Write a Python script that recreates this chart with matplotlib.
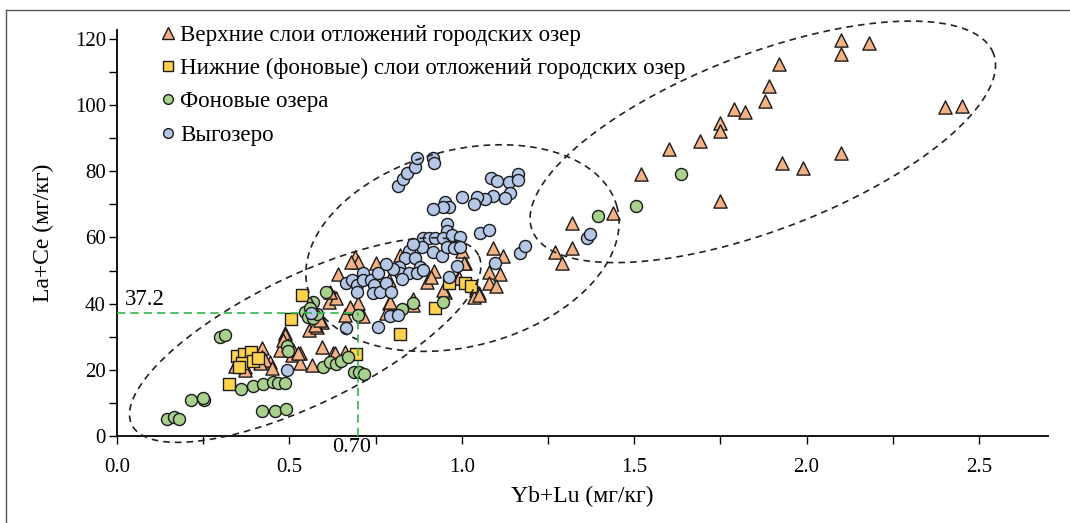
import matplotlib
matplotlib.use("Agg")
import matplotlib.pyplot as plt
import numpy as np
from matplotlib.ticker import MultipleLocator, FormatStrFormatter
from matplotlib.lines import Line2D

plt.rcParams['font.family'] = ['Liberation Serif', 'DejaVu Serif']

# Верхние слои отложений городских озер (Yb+Lu, La+Ce)
upper_x = [2.10, 2.18, 2.10, 1.92, 1.89, 1.88, 1.79, 1.82, 1.75, 1.75, 1.69, 1.60,
           1.52, 1.44, 1.32, 1.32, 1.27, 1.29, 2.40, 2.45, 1.93, 1.99, 2.10, 1.75,
           1.09, 1.12, 1.08, 1.11, 1.08, 1.10, 1.04, 1.05, 1.01, 1.00, 0.99, 0.95,
           0.90, 0.92, 0.91, 1.04, 1.035, 0.86, 1.006, 0.991, 0.947, 1.049,
           0.82, 0.86, 0.79, 0.78, 0.69, 0.70, 0.75, 0.79, 0.64, 0.63, 0.70, 0.675,
           0.66, 0.715, 0.594, 0.556, 0.58, 0.488, 0.594, 0.628, 0.68, 0.614, 0.636,
           0.677, 0.575, 0.473, 0.507, 0.53, 0.531, 0.565, 0.633, 0.662, 0.444,
           0.420, 0.488, 0.497, 0.512, 0.526, 0.346, 0.372, 0.420, 0.430, 0.449,
           0.415, 0.343, 0.372, 0.483, 0.618, 0.585, 0.59, 0.793, 0.75]
upper_y = [119.7, 118.9, 115.4, 112.4, 105.8, 101.1, 98.9, 97.9, 94.5, 92.2, 89.3, 86.7,
           79.2, 67.5, 64.5, 56.7, 55.7, 52.2, 99.4, 99.8, 82.4, 81.1, 85.5, 71.1,
           56.7, 54.5, 49.7, 48.9, 46.3, 45.4, 42.8, 43.1, 52.2, 56.0, 47.7, 43.6,
           46.5, 50.0, 48.2, 44.1, 42.1, 39.6, 52.4, 47.7, 44.1, 42.6,
           54.7, 41.4, 40.1, 37.3, 54.2, 52.7, 52.2, 47.2, 49.0, 42.1, 40.3, 38.6,
           36.6, 36.3, 34.6, 32.0, 33.0, 31.0, 27.0, 25.0, 52.7, 40.6, 41.6,
           38.9, 33.6, 26.0, 24.5, 25.0, 22.0, 21.5, 25.0, 25.5, 22.5,
           26.5, 30.5, 27.5, 26.0, 25.0, 21.8, 20.9, 24.0, 23.0, 20.5,
           22.0, 21.2, 20.0, 29.0, 43.6, 36.1, 35.0, 40.6, 48.5]

# Нижние (фоновые) слои отложений городских озер
lower_x = [0.326, 0.348, 0.369, 0.388, 0.364, 0.394, 0.41, 0.504, 0.538, 0.694,
           0.820, 0.923, 0.962, 1.010, 1.027, 0.355]
lower_y = [15.7, 24.3, 24.7, 25.5, 22.0, 22.7, 23.5, 35.4, 42.6, 24.8,
           30.8, 38.6, 46.2, 46.2, 45.3, 21.0]

# Фоновые озера
bg_x = [0.144, 0.165, 0.180, 0.214, 0.253, 0.249, 0.299, 0.313, 0.359, 0.396,
        0.423, 0.454, 0.467, 0.488, 0.422, 0.459, 0.490, 0.494, 0.497, 0.597,
        0.617, 0.634, 0.651, 0.669, 0.688, 0.703, 0.717, 0.605, 0.570, 0.546,
        0.555, 0.570, 0.560, 0.580, 0.70, 0.827, 0.860, 0.945, 1.635, 1.504, 1.395]
bg_y = [5.1, 5.7, 5.1, 10.9, 10.9, 11.4, 30.0, 30.4, 14.2, 15.2,
        15.7, 16.4, 16.1, 16.1, 7.7, 7.7, 8.2, 27.2, 25.8, 21.0,
        22.5, 21.8, 22.6, 24.0, 19.3, 19.4, 18.7, 43.6, 40.6, 37.6,
        36.1, 35.6, 38.6, 37.0, 36.6, 38.3, 40.3, 40.4, 79.2, 69.6, 66.5]

# Выгозеро
vyg_x = [0.814, 0.830, 0.841, 0.865, 0.870, 0.916, 0.920,
         1.086, 1.103, 1.136, 1.162, 1.164, 1.139, 1.124, 1.091, 1.066, 1.044, 1.035,
         1.001, 0.952, 0.962, 0.947, 0.918, 1.054, 1.078, 1.170, 1.183, 1.364, 1.371,
         1.096, 0.986, 0.962,
         0.957, 0.957, 0.888, 0.904, 0.923, 0.947, 0.972, 0.996, 0.885, 0.918, 0.943,
         0.957, 0.977, 0.996, 0.846, 0.836, 0.865, 0.880, 0.817, 0.822, 0.846, 0.870,
         0.889, 0.827,
         0.665, 0.681, 0.696, 0.696, 0.713, 0.715, 0.737, 0.756, 0.746, 0.744, 0.764,
         0.781, 0.795, 0.791, 0.814, 0.756, 0.665, 0.563, 0.493, 0.80, 0.78, 0.86]
vyg_y = [75.7, 77.6, 79.6, 81.4, 84.1, 84.1, 82.4,
         77.9, 77.1, 76.7, 79.2, 77.4, 73.5, 71.9, 72.6, 71.6, 72.2, 70.0,
         72.3, 70.8, 69.1, 69.1, 68.5, 61.3, 62.3, 55.2, 57.4, 59.8, 61.0,
         52.2, 51.4, 48.0,
         64.0, 62.0, 59.9, 59.8, 59.8, 59.8, 60.8, 60.1, 57.2, 55.7, 54.4,
         57.2, 56.7, 57.2, 56.0, 53.7, 53.7, 51.2, 51.2, 49.2, 49.2, 49.2,
         50.2, 47.4,
         46.2, 47.2, 45.6, 43.6, 49.4, 47.2, 47.2, 49.2, 45.6, 43.1, 43.6,
         46.2, 43.6, 36.4, 36.6, 33.0, 32.6, 37.3, 20.0, 50.5, 52.0, 58.0]

labels = ['Верхние слои отложений городских озер',
          'Нижние (фоновые) слои отложений городских озер',
          'Фоновые озера',
          'Выгозеро']

# ellipses: centre (data), semi-axes (display px), angle (deg)
ellipses = [((0.546, 29.0), 193, 64, 26),
            ((1.002, 56.8), 160, 98, 15),
            ((1.873, 88.9), 247, 88, 21)]

mark_x, mark_y = 0.70, 37.2

fig = plt.figure(figsize=(10.7, 5.23), dpi=100)
ax = fig.add_axes([0.1093, 0.1663, 0.8701, 0.7763])
ax.set_xlim(0, 2.70)
ax.set_ylim(0, 122.7)

ec = '#1a1a1a'
ax.scatter(upper_x, upper_y, marker='^', s=90, c='#F4B183', edgecolors=ec, linewidths=1.0, zorder=3)
ax.scatter(lower_x, lower_y, marker='s', s=75, c='#FFD34D', edgecolors=ec, linewidths=1.0, zorder=4)
ax.scatter(bg_x, bg_y, marker='o', s=75, c='#A9D18E', edgecolors=ec, linewidths=1.0, zorder=4)
ax.scatter(vyg_x, vyg_y, marker='o', s=75, c='#B4C7E7', edgecolors=ec, linewidths=1.0, zorder=5)

fig.canvas.draw()
t = np.linspace(0, 2 * np.pi, 300)
for (cx, cy), a, b, ang in ellipses:
    px, py = ax.transData.transform((cx, cy))
    th = np.deg2rad(ang)
    ex = px + a * np.cos(t) * np.cos(th) - b * np.sin(t) * np.sin(th)
    ey = py + a * np.cos(t) * np.sin(th) + b * np.sin(t) * np.cos(th)
    pts = ax.transData.inverted().transform(np.column_stack([ex, ey]))
    ax.plot(pts[:, 0], pts[:, 1], color='#222222', lw=1.2, dashes=(4, 3),
            zorder=6, clip_on=False)

gc = '#33B54A'
ax.plot([0, mark_x], [mark_y, mark_y], color=gc, lw=1.2, dashes=(5, 3), zorder=7)
ax.plot([mark_x, mark_x], [0, mark_y], color=gc, lw=1.2, dashes=(5, 3), zorder=7)
ax.text(0.022, mark_y + 0.8, '37.2', fontsize=16.5, ha='left', va='bottom')
ax.text(mark_x - 0.02, -0.6, '0.70', fontsize=16, ha='center', va='top')

for s in ['top', 'right']:
    ax.spines[s].set_visible(False)
for s in ['left', 'bottom']:
    ax.spines[s].set_linewidth(1.3)

ax.xaxis.set_major_locator(MultipleLocator(0.5))
ax.xaxis.set_minor_locator(MultipleLocator(0.25))
ax.xaxis.set_major_formatter(FormatStrFormatter('%.1f'))
ax.yaxis.set_major_locator(MultipleLocator(20))
ax.yaxis.set_minor_locator(MultipleLocator(10))
ax.tick_params(which='both', direction='out', length=6, width=1.0)
ax.tick_params(axis='x', which='major', pad=10, labelsize=15)
ax.tick_params(axis='y', which='major', pad=2, labelsize=15)

ax.set_xlabel('Yb+Lu (мг/кг)', fontsize=17, labelpad=6)
ax.set_ylabel('La+Ce (мг/кг)', fontsize=17, labelpad=15)

handles = [
    Line2D([], [], ls='', marker='^', ms=8, mfc='#F4B183', mec=ec, mew=1.0),
    Line2D([], [], ls='', marker='s', ms=7, mfc='#FFD34D', mec=ec, mew=1.0),
    Line2D([], [], ls='', marker='o', ms=7, mfc='#A9D18E', mec=ec, mew=1.0),
    Line2D([], [], ls='', marker='o', ms=7, mfc='#B4C7E7', mec=ec, mew=1.0),
]
ax.legend(handles, labels, loc='upper left', bbox_to_anchor=(0.038, 1.035),
          frameon=False, fontsize=16.6, handlelength=0.55, handletextpad=0.25,
          labelspacing=0.52, borderaxespad=0)

# figure border
fig.add_artist(Line2D([6 / 1070, 6 / 1070], [0, 1 - 10 / 523], color='#555555', lw=1.0))
fig.add_artist(Line2D([6 / 1070, 1], [1 - 10 / 523, 1 - 10 / 523], color='#555555', lw=1.0))

fig.savefig('out.png', dpi=100)
